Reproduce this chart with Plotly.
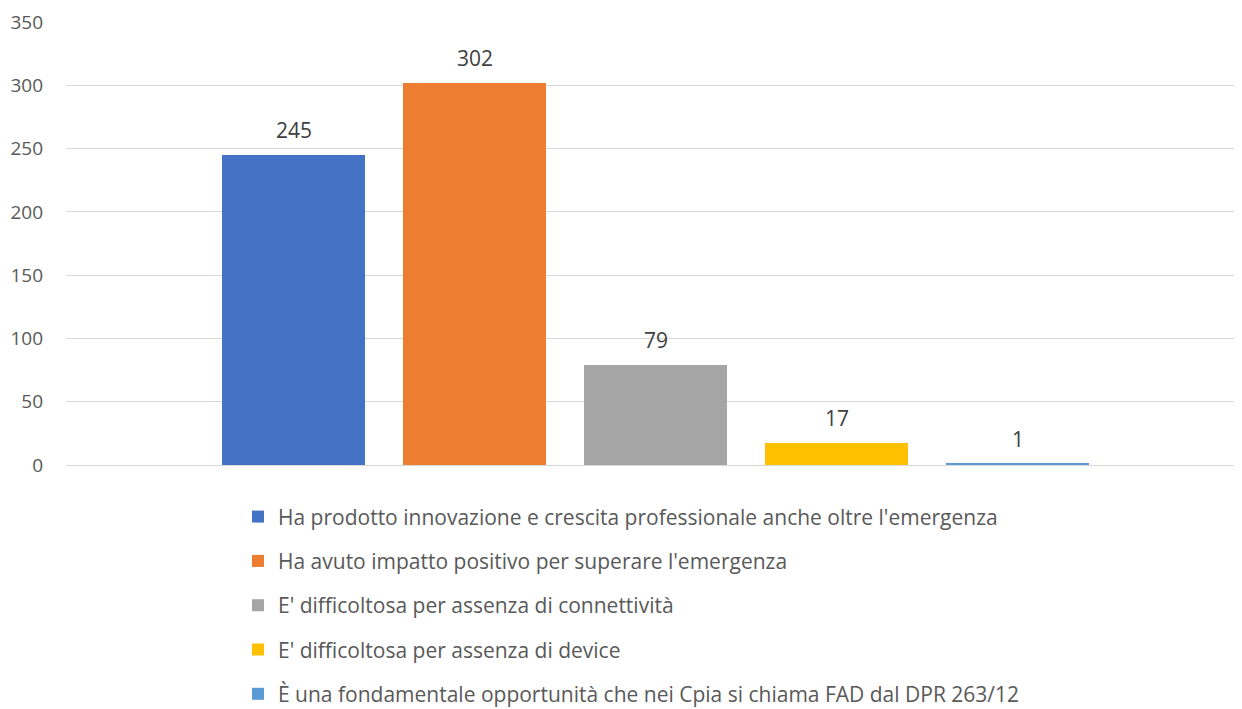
import plotly.graph_objects as go

categories = [
    "Ha prodotto innovazione e crescita professionale anche oltre l'emergenza",
    "Ha avuto impatto positivo per superare l'emergenza",
    "E' difficoltosa per assenza di connettività",
    "E' difficoltosa per assenza di device",
    "È una fondamentale opportunità che nei Cpia si chiama FAD dal DPR 263/12",
]
values = [245, 302, 79, 17, 1]
colors = ["#4472C4", "#ED7D31", "#A5A5A5", "#FFC000", "#5B9BD5"]
y_ticks = [0, 50, 100, 150, 200, 250, 300, 350]

FONT = "Open Sans, Liberation Sans, sans-serif"

fig = go.Figure()
for i, (name, v, c) in enumerate(zip(categories, values, colors)):
    fig.add_trace(go.Bar(
        x=[i], y=[v], name=name, width=0.79,
        marker=dict(color=c, line=dict(width=0)),
        legendgroup=str(i),
        hoverinfo="skip",
    ))
    fig.add_annotation(
        x=i, y=v, text=str(v), showarrow=False,
        yshift=25, font=dict(family=FONT, size=21, color="#404040"),
    )

fig.update_layout(
    width=1234, height=701,
    margin=dict(l=58, r=2, t=14, b=244, autoexpand=False),
    paper_bgcolor="white", plot_bgcolor="white",
    showlegend=True,
    legend=dict(
        x=0.1465, y=-0.071, xanchor="left", yanchor="top",
        orientation="v", traceorder="grouped", tracegroupgap=14,
        font=dict(family=FONT, size=21, color="#595959"),
        itemwidth=30,
    ),
    xaxis=dict(range=[-1.257, 5.229], showticklabels=False, showgrid=False,
               zeroline=False, showline=False, ticks="", automargin=False),
    yaxis=dict(range=[0, 350.01], tickvals=y_ticks, showgrid=True,
               gridcolor="#D9D9D9", gridwidth=1.3, zeroline=True,
               zerolinecolor="#D9D9D9", zerolinewidth=1.3,
               tickfont=dict(family=FONT, size=19, color="#595959"),
               ticks="", ticklabelstandoff=22, automargin=False,
               ticklabeloverflow="allow"),
    bargap=0,
)

fig.write_html("out.html")
